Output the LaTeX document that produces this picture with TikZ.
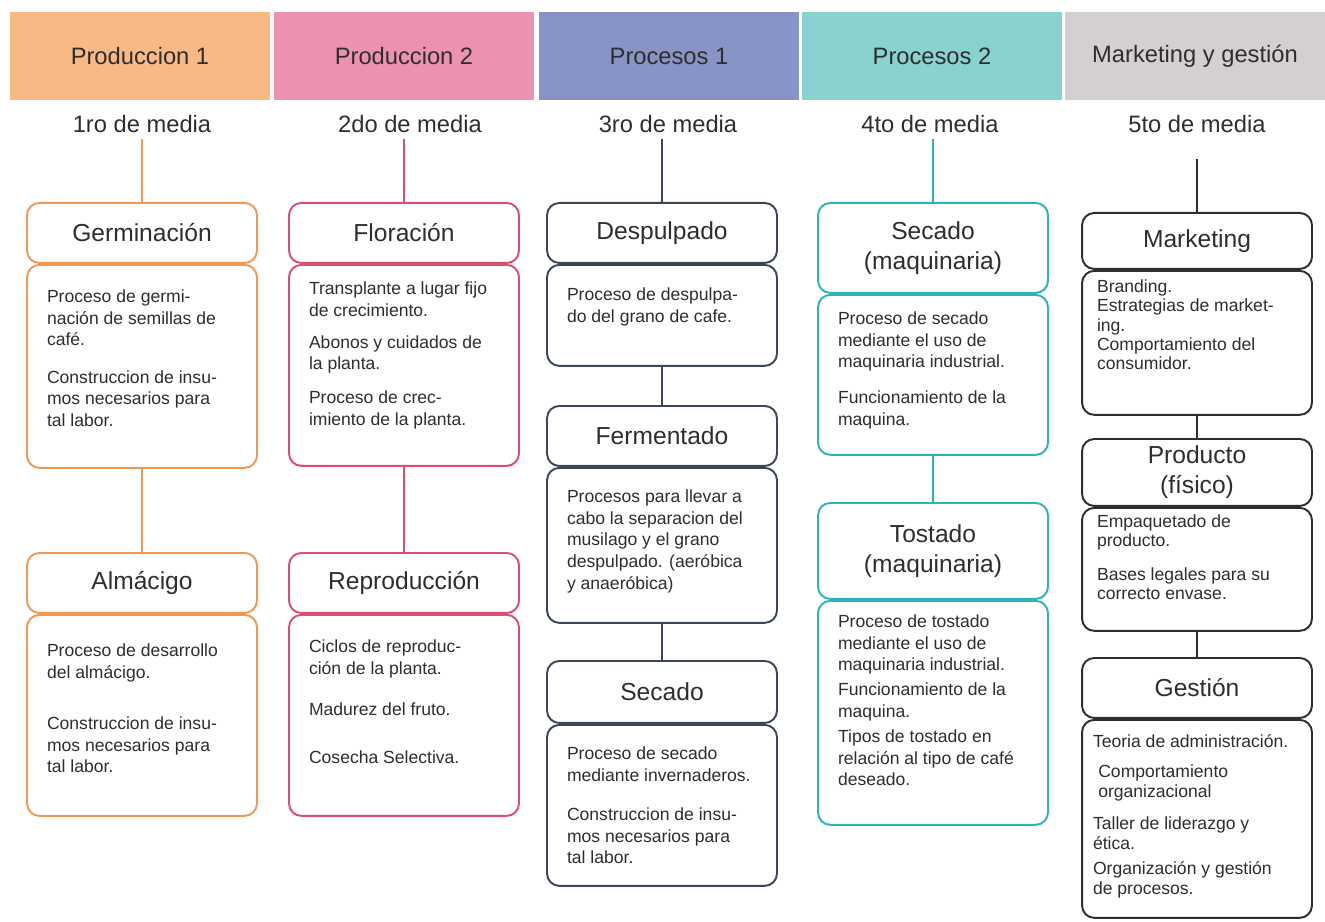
\documentclass[tikz,border=0pt]{standalone}
\usepackage{fontspec}
\setmainfont{Liberation Sans}
\usetikzlibrary{positioning}

\definecolor{orangefill}{HTML}{F8B984}
\definecolor{orangeline}{HTML}{EE9A55}
\definecolor{pinkfill}{HTML}{EC92B0}
\definecolor{pinkline}{HTML}{DB4D72}
\definecolor{bluefill}{HTML}{8894C5}
\definecolor{blueline}{HTML}{3B4759}
\definecolor{tealfill}{HTML}{88D2CF}
\definecolor{tealline}{HTML}{2DB4B9}
\definecolor{grayfill}{HTML}{D5D0D0}
\definecolor{grayline}{HTML}{2E2E2E}
\definecolor{ink}{HTML}{2E2E2E}

% [text width]{top gap}{box height}{text}
\newcommand\steptext[4][3.8cm]{\parbox[c][#3][t]{#1}{\raggedright\vspace*{#2}#4}}

\begin{document}
\begin{tikzpicture}%
  [x=0.02cm, y=-0.02cm,
   header/.style={minimum width=5.22cm, minimum height=1.76cm, inner sep=0pt,
                  text=ink, font=\fontsize{13.5}{16}\selectfont},
   year/.style={text=ink, font=\fontsize{13.5}{16}\selectfont},
   stage/.style={draw=#1, line width=1.1pt, fill=white, rounded corners=7pt,
                 minimum width=4.6cm, inner sep=0pt, align=center, anchor=north,
                 text=ink, font=\fontsize{14}{17}\selectfont},
   detail/.style={draw=#1, line width=1.1pt, fill=white, rounded corners=7pt,
                  minimum width=4.6cm, inner xsep=0.4cm, inner ysep=0pt,
                  text=ink, font=\fontsize{10}{12.3}\selectfont},
   link/.style={draw=#1, line width=1.3pt}
  ]
\useasboundingbox (0,0) rectangle (1325,922);

% headers and years
\node[header, fill=orangefill] (h1) at (140,56)  {Produccion 1};
\node[header, fill=pinkfill]   (h2) at (404,56)  {Produccion 2};
\node[header, fill=bluefill]   (h3) at (669,56)  {Procesos 1};
\node[header, fill=tealfill]   (h4) at (932,56)  {Procesos 2};
\node[header, fill=grayfill]   (h5) at (1195,56) {Marketing y gestión};

\node[year] (y1) at (142,124)  {1ro de media};
\node[year] (y2) at (410,124)  {2do de media};
\node[year] (y3) at (668,124)  {3ro de media};
\node[year] (y4) at (930,124)  {4to de media};
\node[year] (y5) at (1197,124) {5to de media};

% Produccion 1
\node[stage=orangeline, minimum height=1.2cm] (germ) at (142,202) {Germinación};
\node[detail=orangeline, below=0pt of germ] (germtxt)
  {\steptext{0.5cm}{4.06cm}{Proceso de germi-\\nación de semillas de\\café.\\[9pt]Construccion de insu-\\mos necesarios para\\tal labor.}};
\node[stage=orangeline, minimum height=1.2cm] (alm) at (142,552) {Almácigo};
\node[detail=orangeline, below=0pt of alm] (almtxt)
  {\steptext{0.58cm}{4.02cm}{Proceso de desarrollo\\del almácigo.\\[17pt]Construccion de insu-\\mos necesarios para\\tal labor.}};

% Produccion 2
\node[stage=pinkline, minimum height=1.2cm] (flor) at (404,202) {Floración};
\node[detail=pinkline, below=0pt of flor] (flortxt)
  {\steptext{0.34cm}{4.02cm}{Transplante a lugar fijo\\de crecimiento.\\[6pt]Abonos y cuidados de\\la planta.\\[7pt]Proceso de crec-\\imiento de la planta.}};
\node[stage=pinkline, minimum height=1.2cm] (repro) at (404,552) {Reproducción};
\node[detail=pinkline, below=0pt of repro] (reprotxt)
  {\steptext{0.5cm}{4.02cm}{Ciclos de reproduc-\\ción de la planta.\\[11pt]Madurez del fruto.\\[15pt]Cosecha Selectiva.}};

% Procesos 1
\node[stage=blueline, minimum height=1.2cm] (desp) at (662,202) {Despulpado};
\node[detail=blueline, below=0pt of desp] (desptxt)
  {\steptext{0.46cm}{2.02cm}{Proceso de despulpa-\\do del grano de cafe.}};
\node[stage=blueline, minimum height=1.2cm] (ferm) at (662,405) {Fermentado};
\node[detail=blueline, below=0pt of ferm] (fermtxt)
  {\steptext{0.44cm}{3.1cm}{Procesos para llevar a\\cabo la separacion del\\musilago y el grano\\despulpado. (aeróbica\\y anaeróbica)}};
\node[stage=blueline, minimum height=1.24cm] (sec) at (662,660) {Secado};
\node[detail=blueline, below=0pt of sec] (sectxt)
  {\steptext{0.44cm}{3.22cm}{Proceso de secado\\mediante invernaderos.\\[10pt]Construccion de insu-\\mos necesarios para\\tal labor.}};

% Procesos 2
\node[stage=tealline, minimum height=1.8cm] (secmaq) at (933,202) {Secado\\(maquinaria)};
\node[detail=tealline, below=0pt of secmaq] (secmaqtxt)
  {\steptext{0.34cm}{3.2cm}{Proceso de secado\\mediante el uso de\\maquinaria industrial.\\[8pt]Funcionamiento de la\\maquina.}};
\node[stage=tealline, minimum height=1.92cm] (tost) at (933,502) {Tostado\\(maquinaria)};
\node[detail=tealline, below=0pt of tost] (tosttxt)
  {\steptext{0.28cm}{4.48cm}{Proceso de tostado\\mediante el uso de\\maquinaria industrial.\\[2pt]Funcionamiento de la\\maquina.\\[2pt]Tipos de tostado en\\relación al tipo de café\\deseado.}};

% Marketing y gestion
\node[stage=grayline, minimum height=1.12cm] (mkt) at (1197,212) {Marketing};
\node[detail=grayline, below=0pt of mkt, inner xsep=0.3cm, font=\fontsize{10}{11}\selectfont] (mkttxt)
  {\steptext[4cm]{0.18cm}{2.88cm}{Branding.\\Estrategias de market-\\ing.\\Comportamiento del\\consumidor.}};
\node[stage=grayline, minimum height=1.34cm] (prod) at (1197,438) {Producto\\(físico)};
\node[detail=grayline, below=0pt of prod, inner xsep=0.3cm, font=\fontsize{10}{11}\selectfont] (prodtxt)
  {\steptext[4cm]{0.14cm}{2.46cm}{Empaquetado de\\producto.\\[8pt]Bases legales para su\\correcto envase.}};
\node[stage=grayline, minimum height=1.2cm] (gest) at (1197,657) {Gestión};
\node[detail=grayline, below=0pt of gest, inner xsep=0.22cm, font=\fontsize{10}{11.3}\selectfont] (gesttxt)
  {\steptext[4.16cm]{0.3cm}{3.96cm}{Teoria de administración.\\[5.5pt]
   \hspace*{3pt}Comportamiento\\\hspace*{3pt}organizacional\\[7pt]Taller de liderazgo y\\ética.\\[3pt]Organización y gestión\\de procesos.}};

% connectors
\draw[link=orangeline] (germ |- y1.south) -- (germ.north);
\draw[link=orangeline] (germtxt) -- (alm);
\draw[link=pinkline] (flor |- y2.south) -- (flor.north);
\draw[link=pinkline] (flortxt) -- (repro);
\draw[link=blueline] (desp |- y3.south) -- (desp.north);
\draw[link=blueline] (desptxt) -- (ferm);
\draw[link=blueline] (fermtxt) -- (sec);
\draw[link=tealline] (secmaq |- y4.south) -- (secmaq.north);
\draw[link=tealline] (secmaqtxt) -- (tost);
\draw[link=grayline, shorten <=4mm] (mkt |- y5.south) -- (mkt.north);
\draw[link=grayline] (mkttxt) -- (prod);
\draw[link=grayline] (prodtxt) -- (gest);
\end{tikzpicture}
\end{document}
